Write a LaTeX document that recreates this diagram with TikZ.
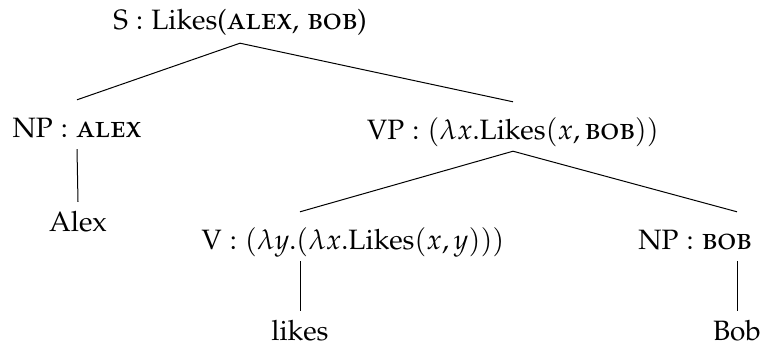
\documentclass[tikz,border=0pt]{standalone}
\usepackage[T1]{fontenc}
\usepackage[sc]{mathpazo}
% constants in small capitals, set a little larger than the running text
\newcommand\konst[1]{{\fontsize{31}{34}\selectfont\textsc{#1}}}
\begin{document}
\begin{tikzpicture}[x=1pt,y=-1pt,
  every node/.style={font=\fontsize{28}{32}\selectfont, anchor=base, inner sep=0pt},
  root/.style={text height=20pt, text depth=14pt},
  inner/.style={text height=37pt, text depth=12pt},
  leaf/.style={text height=29pt, text depth=0pt},
  edge/.style={line width=1pt}]
\useasboundingbox (0,0) rectangle (784,351);
% internal nodes
\node[root]  (s)   at (240,29)  {S : Likes(\konst{alex}, \konst{bob})};
\node[inner] (np1) at (77,137)  {NP : \konst{alex}};
\node[inner] (vp)  at (513,139) {VP : $(\lambda x.\mathrm{Likes}(x, \mbox{\konst{bob}}))$};
\node[inner] (v)   at (353,249) {V : $(\lambda y.(\lambda x.\mathrm{Likes}(x, y)))$};
\node[inner] (np2) at (695,249) {NP : \konst{bob}};
% leaves
\node[leaf] (alex)  at (78,231)  {Alex};
\node[leaf] (likes) at (300,340) {likes};
\node[leaf] (bob)   at (737,340) {Bob};
% branches
\draw[edge] (s.south) -- (np1.north);
\draw[edge] (s.south) -- (vp.north);
\draw[edge] (np1.south) -- (alex.north);
\draw[edge] (vp.south) -- (v.north -| likes.north);
\draw[edge] (vp.south) -- (np2.north -| bob.north);
\draw[edge] (v.south -| likes.north) -- (likes.north);
\draw[edge] (np2.south -| bob.north) -- (bob.north);
\end{tikzpicture}
\end{document}
